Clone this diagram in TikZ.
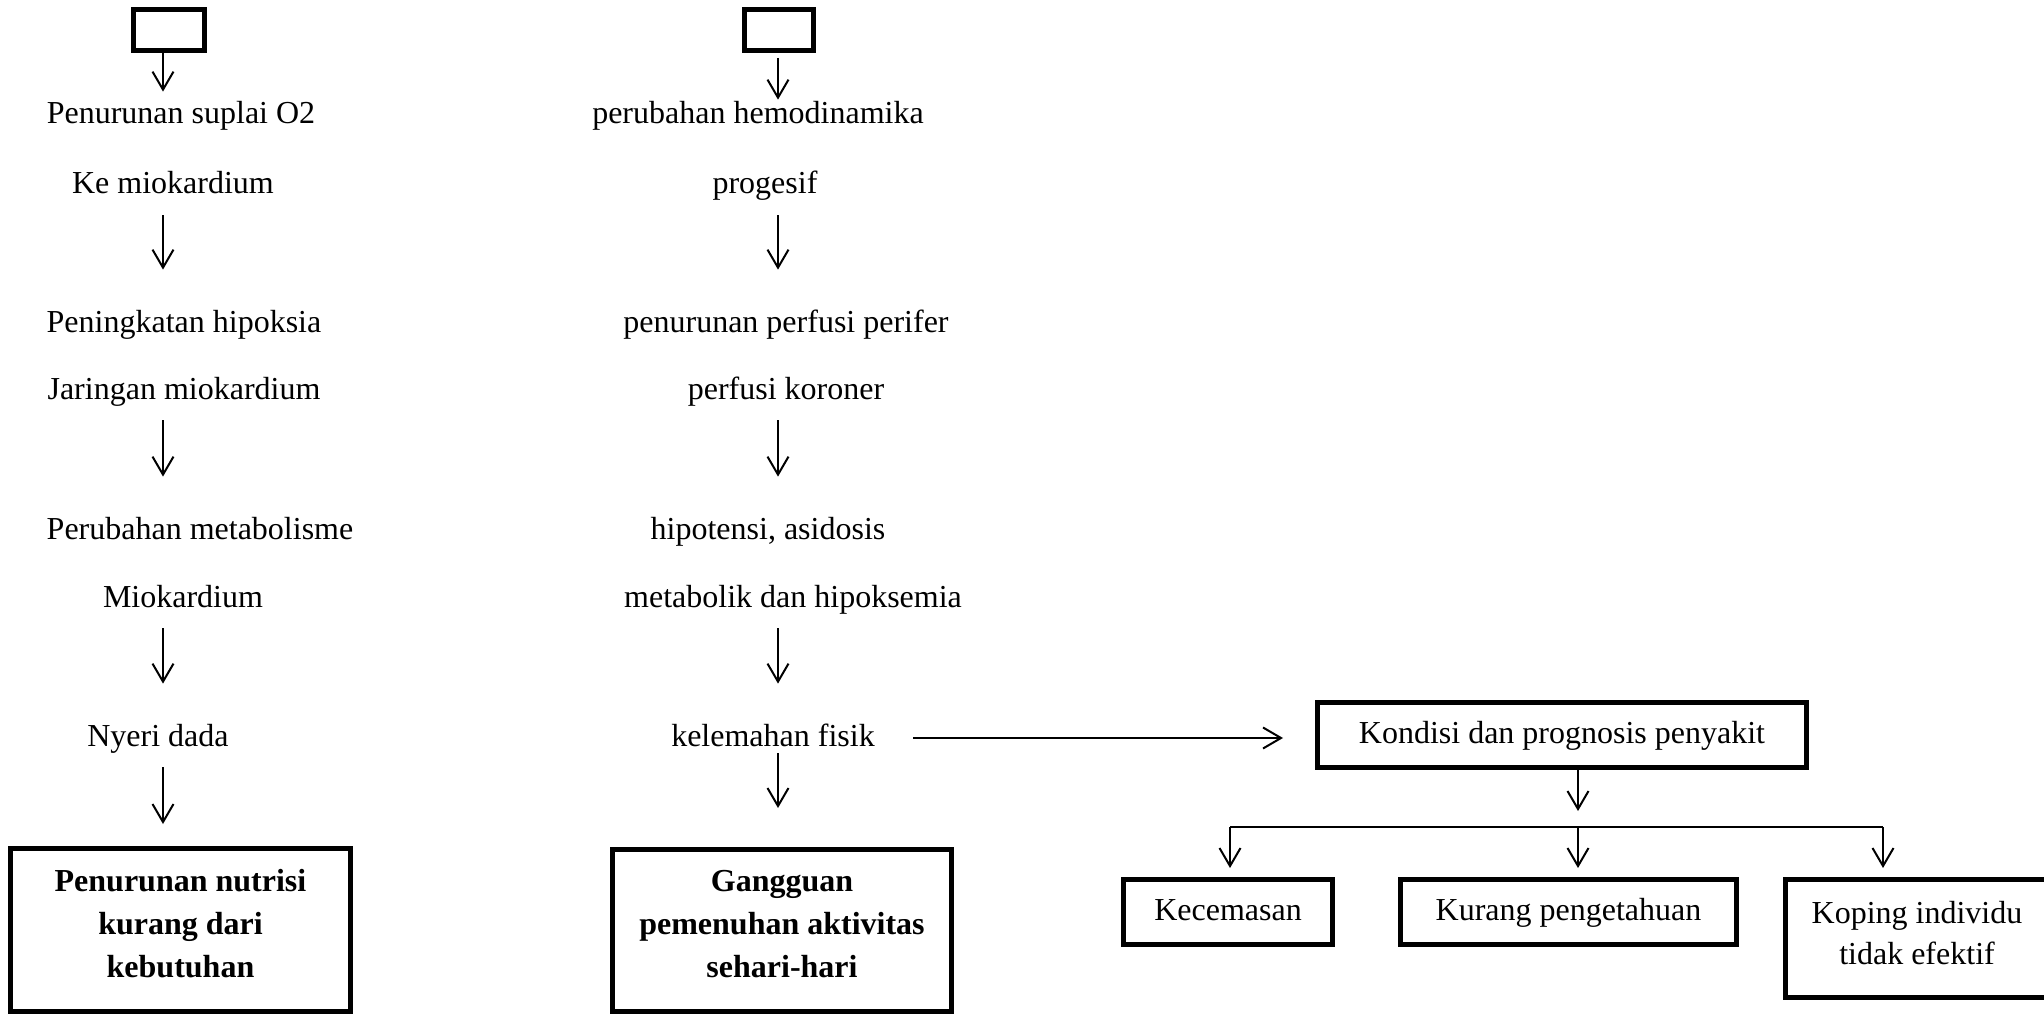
\documentclass[tikz,border=0pt]{standalone}
\usepackage{fontspec}
\setmainfont{Liberation Serif}
\usetikzlibrary{arrows.meta}

\begin{document}
\begin{tikzpicture}[x=0.5pt,y=-0.5pt]
	\tikzstyle{every node}+=[inner sep=0pt, font=\fontsize{16}{19}\selectfont]
	\tikzstyle{txt}=[text height=11pt, text depth=3pt]
	\tikzstyle{box}=[draw=black, line width=2.5pt, align=center]
	\tikzstyle{bold}=[font=\fontsize{16}{21.5}\selectfont\bfseries]
	\tikzstyle{flow}=[black, line width=1pt, -{Straight Barb[length=9pt,width=10.5pt]}, shorten <=7.5pt, shorten >=20pt]
	\useasboundingbox (0,0) rectangle (2044,1016);
	\coordinate (colA) at (163,0);
	\coordinate (colB) at (778,0);
	\coordinate (split) at (1578,827);
	\coordinate (bl) at (1230,827);
	\coordinate (br) at (1883,827);
	\node [box, minimum width=35.5pt, minimum height=20.5pt] (top1) at (169,30) {};
	\node [txt] (sup1) at (181,116) {Penurunan suplai O2};
	\node [txt] (ke1) at (173,186) {Ke miokardium};
	\node [txt] (pen2) at (184,324) {Peningkatan hipoksia};
	\node [txt] (jar1) at (184,391) {Jaringan miokardium};
	\node [txt] (per1) at (200,531) {Perubahan metabolisme};
	\node [txt] (mio1) at (183,599) {Miokardium};
	\node [txt] (nye1) at (158,738) {Nyeri dada};
	\node [box, bold, minimum width=170pt, minimum height=81.5pt] (box1) at (180.5,930) {Penurunan nutrisi\\kurang dari\\kebutuhan\rule[-7pt]{0pt}{0pt}};
	\node [box, minimum width=34.5pt, minimum height=20.5pt] (top2) at (779,30) {};
	\node [txt] (per2) at (758,116) {perubahan hemodinamika};
	\node [txt] (pro2) at (765,186) {progesif};
	\node [txt] (pen3) at (786,324) {penurunan perfusi perifer};
	\node [txt] (kor2) at (786,391) {perfusi koroner};
	\node [txt] (hip2) at (768,531) {hipotensi, asidosis};
	\node [txt] (met2) at (793,599) {metabolik dan hipoksemia};
	\node [txt] (kel2) at (773,738) {kelemahan fisik};
	\node [box, bold, minimum width=169.5pt, minimum height=81pt] (box2) at (782,930.5) {Gangguan\\pemenuhan aktivitas\\sehari-hari\rule[-7pt]{0pt}{0pt}};
	\node [box, txt, minimum width=244.5pt, minimum height=32.5pt] (kon) at (1562,735) {Kondisi dan prognosis penyakit};
	\node [box, txt, minimum width=104.5pt, minimum height=32.5pt] (kec) at (1228,912) {Kecemasan};
	\node [box, txt, minimum width=168pt, minimum height=32.5pt] (kur) at (1568.5,912) {Kurang pengetahuan};
	\node [box, font=\fontsize{16}{20.5}\selectfont, minimum width=131.5pt, minimum height=59pt] (kop) at (1917,938.5) {Koping individu\\tidak efektif\rule[-6pt]{0pt}{0pt}};
	\draw [flow, shorten <=0pt, shorten >=5pt] (top1.south -| colA) -- (sup1.north -| colA);
	\draw [flow] (ke1.south -| colA) -- (pen2.north -| colA);
	\draw [flow] (jar1.south -| colA) -- (per1.north -| colA);
	\draw [flow] (mio1.south -| colA) -- (nye1.north -| colA);
	\draw [flow, shorten >=11pt] (nye1.south -| colA) -- (box1.north -| colA);
	\draw [flow, shorten <=2.5pt, shorten >=1pt] (top2.south -| colB) -- (per2.north -| colB);
	\draw [flow] (pro2.south -| colB) -- (pen3.north -| colB);
	\draw [flow] (kor2.south -| colB) -- (hip2.north -| colB);
	\draw [flow] (met2.south -| colB) -- (kel2.north -| colB);
	\draw [flow, shorten <=0.5pt, shorten >=19.5pt] (kel2.south -| colB) -- (box2.north -| colB);
	\draw [flow, shorten <=19pt, shorten >=16pt] (kel2.east) -- (kel2.east -| kon.west);
	\draw [flow, shorten <=0pt, shorten >=8pt] (kon.south -| split) -- (split);
	\draw [black, line width=1pt] (bl) -- (br);
	\draw [flow, shorten <=0pt, shorten >=4.5pt] (bl) -- (bl |- kec.north);
	\draw [flow, shorten <=0pt, shorten >=4.5pt] (split) -- (split |- kur.north);
	\draw [flow, shorten <=0pt, shorten >=4.5pt] (br) -- (br |- kop.north);
\end{tikzpicture}
\end{document}
